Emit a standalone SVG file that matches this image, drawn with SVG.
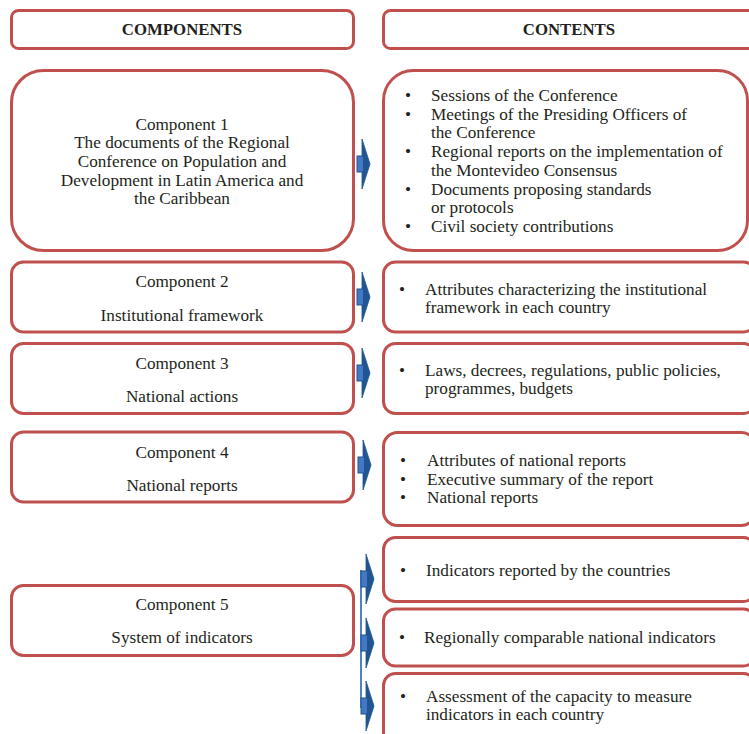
<svg xmlns="http://www.w3.org/2000/svg" width="749" height="734" viewBox="0 0 749 734">
<defs>
<style>
.box{fill:#fff;stroke:#c0504d;stroke-width:3}
.t{font-family:"Liberation Serif","Times New Roman",serif;font-size:17.2px;fill:#231f20}
.c{text-anchor:middle}
.h{font-weight:bold;font-size:16.8px}
.ah{fill:#1f5591;stroke:#1f5591;stroke-width:0.8;stroke-linejoin:round}
.ab{fill:#4478c4;stroke:#1f5591;stroke-width:1}
.vl{stroke:#4f81c8;stroke-width:2;fill:none}
</style>
<g id="arrow">
<polygon class="ah" points="0,-25 8,0 0,25"/>
<rect class="ab" x="-5" y="-8" width="6.5" height="16"/>
</g>
</defs>
<rect width="749" height="734" fill="#fff"/>

<g id="hdr-components">
<rect class="box" x="11.5" y="10.5" width="342" height="38" rx="7"/>
<text class="t c h" x="182" y="34.5">COMPONENTS</text>
</g>
<g id="hdr-contents">
<rect class="box" x="383.5" y="10.5" width="372" height="38" rx="7"/>
<text class="t c h" x="569" y="34.5">CONTENTS</text>
</g>

<g id="comp1">
<rect class="box" x="11.5" y="70.5" width="342" height="180" rx="32"/>
<text class="t c" x="182" y="129.5">Component 1</text>
<text class="t c" x="182" y="148.2">The documents of the Regional</text>
<text class="t c" x="182" y="166.9">Conference on Population and</text>
<text class="t c" x="182" y="185.6">Development in Latin America and</text>
<text class="t c" x="182" y="204.3">the Caribbean</text>
</g>
<g id="cont1">
<rect class="box" x="383.5" y="70.5" width="364" height="180" rx="30"/>
<g class="t">
<text x="405" y="101">•</text><text x="431" y="101">Sessions of the Conference</text>
<text x="405" y="119.7">•</text><text x="431" y="119.7">Meetings of the Presiding Officers of</text>
<text x="431" y="138.4">the Conference</text>
<text x="405" y="157.1">•</text><text x="431" y="157.1">Regional reports on the implementation of</text>
<text x="431" y="175.8">the Montevideo Consensus</text>
<text x="405" y="194.5">•</text><text x="431" y="194.5">Documents proposing standards</text>
<text x="431" y="213.2">or protocols</text>
<text x="405" y="231.9">•</text><text x="431" y="231.9">Civil society contributions</text>
</g>
</g>

<g id="comp2">
<rect class="box" x="11.5" y="262" width="342" height="70" rx="12"/>
<text class="t c" x="182" y="287">Component 2</text>
<text class="t c" x="182" y="321">Institutional framework</text>
</g>
<g id="cont2">
<rect class="box" x="383.5" y="262" width="372" height="70" rx="12"/>
<g class="t">
<text x="399" y="294.5">•</text><text x="425" y="294.5">Attributes characterizing the institutional</text>
<text x="425" y="313">framework in each country</text>
</g>
</g>

<g id="comp3">
<rect class="box" x="11.5" y="343.5" width="342" height="70" rx="12"/>
<text class="t c" x="182" y="369">Component 3</text>
<text class="t c" x="182" y="401.7">National actions</text>
</g>
<g id="cont3">
<rect class="box" x="383.5" y="343.5" width="372" height="70" rx="12"/>
<g class="t">
<text x="399" y="375.5">•</text><text x="425" y="375.5">Laws, decrees, regulations, public policies,</text>
<text x="425" y="394">programmes, budgets</text>
</g>
</g>

<g id="comp4">
<rect class="box" x="11.5" y="432" width="342" height="70" rx="12"/>
<text class="t c" x="182" y="458">Component 4</text>
<text class="t c" x="182" y="490.7">National reports</text>
</g>
<g id="cont4">
<rect class="box" x="383.5" y="432.5" width="372" height="93" rx="14"/>
<g class="t">
<text x="400" y="466">•</text><text x="427" y="466">Attributes of national reports</text>
<text x="400" y="484.5">•</text><text x="427" y="484.5">Executive summary of the report</text>
<text x="400" y="503">•</text><text x="427" y="503">National reports</text>
</g>
</g>

<g id="comp5">
<rect class="box" x="11.5" y="585.5" width="342" height="70" rx="12"/>
<text class="t c" x="182" y="610">Component 5</text>
<text class="t c" x="182" y="642.7">System of indicators</text>
</g>
<g id="cont5a">
<rect class="box" x="383.5" y="537.5" width="372" height="64" rx="12"/>
<g class="t"><text x="400" y="576">•</text><text x="426" y="576">Indicators reported by the countries</text></g>
</g>
<g id="cont5b">
<rect class="box" x="383.5" y="609" width="372" height="57" rx="12"/>
<g class="t"><text x="399" y="643">•</text><text x="424" y="643">Regionally comparable national indicators</text></g>
</g>
<g id="cont5c">
<rect class="box" x="383.5" y="673.5" width="372" height="80" rx="12"/>
<g class="t">
<text x="400" y="701.7">•</text><text x="426" y="701.7">Assessment of the capacity to measure</text>
<text x="426" y="720">indicators in each country</text>
</g>
</g>

<g id="connectors">
<use href="#arrow" x="362" y="164"/>
<use href="#arrow" x="362" y="297"/>
<use href="#arrow" x="362" y="373"/>
<use href="#arrow" x="363" y="465"/>
<path class="vl" d="M361,570 V708"/>
<use href="#arrow" x="366" y="579"/>
<use href="#arrow" x="366" y="643"/>
<use href="#arrow" x="366" y="706"/>
</g>
</svg>
